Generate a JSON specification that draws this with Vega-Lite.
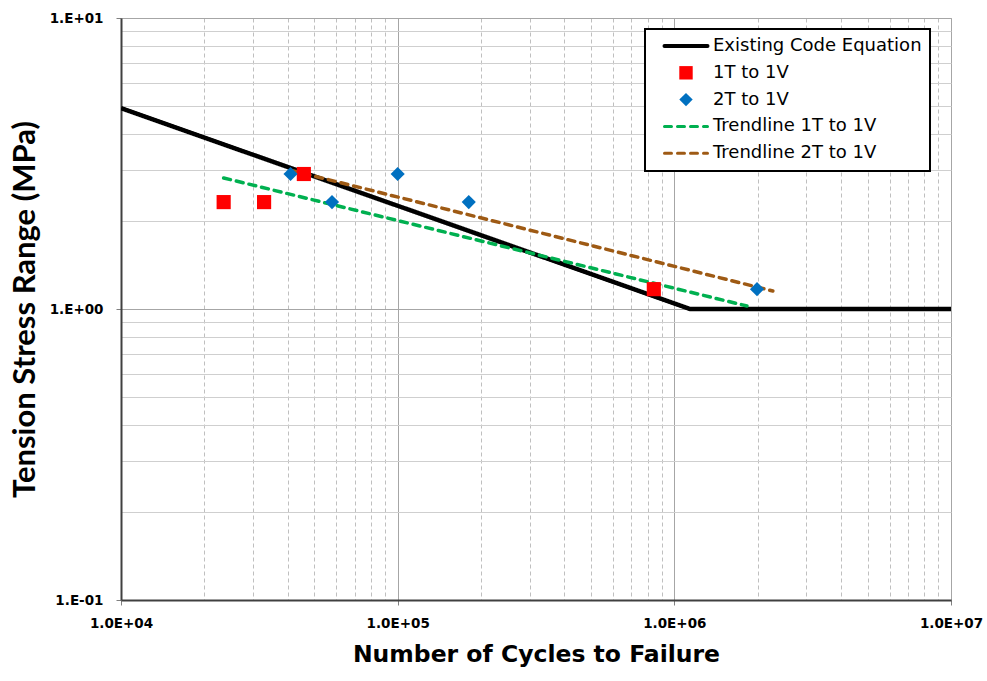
{
  "$schema": "https://vega.github.io/schema/vega-lite/v6.json",
  "width": 830,
  "height": 582,
  "autosize": {"type": "none"},
  "padding": {"left": 121, "top": 18, "right": 36, "bottom": 81},
  "background": "white",
  "config": {
    "view": {"stroke": "#a6a6a6", "strokeWidth": 1},
    "font": "DejaVu Sans",
    "axis": {"labelFontSize": 13.5, "labelFont": "DejaVu Sans", "labelFontWeight": "bold"},
    "legend": {"strokeWidth": 2}
  },
  "data": {
    "values": [
      {"series": "Existing Code Equation", "N": 10000, "S": 4.9, "o": 1},
      {"series": "Existing Code Equation", "N": 1140000, "S": 1.0, "o": 2},
      {"series": "Existing Code Equation", "N": 10000000, "S": 1.0, "o": 3},
      {"series": "1T to 1V", "N": 23500, "S": 2.33, "o": 1},
      {"series": "1T to 1V", "N": 32900, "S": 2.33, "o": 2},
      {"series": "1T to 1V", "N": 45800, "S": 2.91, "o": 3},
      {"series": "1T to 1V", "N": 843000, "S": 1.17, "o": 4},
      {"series": "2T to 1V", "N": 41000, "S": 2.91, "o": 1},
      {"series": "2T to 1V", "N": 57900, "S": 2.33, "o": 2},
      {"series": "2T to 1V", "N": 100000, "S": 2.91, "o": 3},
      {"series": "2T to 1V", "N": 180700, "S": 2.33, "o": 4},
      {"series": "2T to 1V", "N": 1990000, "S": 1.17, "o": 5},
      {"series": "Trendline 1T to 1V", "N": 23500, "S": 2.82, "o": 1},
      {"series": "Trendline 1T to 1V", "N": 1830000, "S": 1.024, "o": 2},
      {"series": "Trendline 2T to 1V", "N": 41000, "S": 3.0, "o": 1},
      {"series": "Trendline 2T to 1V", "N": 2270000, "S": 1.153, "o": 2}
    ]
  },
  "encoding": {
    "x": {
      "field": "N", "type": "quantitative",
      "scale": {"type": "log", "domain": [10000, 10000000], "nice": false},
      "axis": {
        "title": "Number of Cycles to Failure",
        "titleFont": "DejaVu Sans", "titleFontSize": 23.5, "titleFontWeight": "bold", "titleColor": "black",
        "titlePadding": 13,
        "values": [10000,20000,30000,40000,50000,60000,70000,80000,90000,100000,200000,300000,400000,500000,600000,700000,800000,900000,1000000,2000000,3000000,4000000,5000000,6000000,7000000,8000000,9000000,10000000],
        "labelExpr": "abs(log(datum.value)/LN10 - round(log(datum.value)/LN10)) < 0.001 ? '1.0E+0' + round(log(datum.value)/LN10) : ''",
        "labelFont": "DejaVu Sans", "labelFontSize": 13.5, "labelFontWeight": "bold", "labelColor": "black",
        "labelPadding": 11, "labelFlush": false, "labelOverlap": false,
        "domainColor": "#404040", "domainWidth": 2,
        "tickColor": "#808080", "tickSize": 5,
        "tickOpacity": {"condition": {"test": "abs(log(datum.value)/LN10 - round(log(datum.value)/LN10)) < 0.001", "value": 1}, "value": 0},
        "grid": true,
        "gridColor": {"condition": {"test": "abs(log(datum.value)/LN10 - round(log(datum.value)/LN10)) < 0.001", "value": "#a6a6a6"}, "value": "#bfbfbf"},
        "gridDash": {"condition": {"test": "abs(log(datum.value)/LN10 - round(log(datum.value)/LN10)) < 0.001", "value": []}, "value": [4, 3]},
        "gridWidth": 1
      }
    },
    "y": {
      "field": "S", "type": "quantitative",
      "scale": {"type": "log", "domain": [0.1, 10], "nice": false},
      "axis": {
        "title": "Tension Stress Range (MPa)",
        "titleFont": "Lato", "titleFontSize": 31, "titleFontWeight": "bold", "titleColor": "black",
        "titlePadding": 8,
        "values": [0.1,0.2,0.3,0.4,0.5,0.6,0.7,0.8,0.9,1,2,3,4,5,6,7,8,9,10],
        "labelExpr": "abs(log(datum.value)/LN10 - round(log(datum.value)/LN10)) < 0.001 ? (round(log(datum.value)/LN10) < 0 ? '1.E-0' + abs(round(log(datum.value)/LN10)) : '1.E+0' + round(log(datum.value)/LN10)) : ''",
        "labelFont": "DejaVu Sans", "labelFontSize": 13.5, "labelFontWeight": "bold", "labelColor": "black",
        "labelPadding": 13, "labelOverlap": false,
        "domainColor": "#404040", "domainWidth": 2,
        "tickColor": "#808080", "tickSize": 5,
        "tickOpacity": {"condition": {"test": "abs(log(datum.value)/LN10 - round(log(datum.value)/LN10)) < 0.001", "value": 1}, "value": 0},
        "grid": true,
        "gridColor": {"condition": {"test": "abs(log(datum.value)/LN10 - round(log(datum.value)/LN10)) < 0.001", "value": "#a6a6a6"}, "value": "#cfcfcf"},
        "gridWidth": 1
      }
    },
    "color": {
      "field": "series", "type": "nominal",
      "scale": {
        "domain": ["Existing Code Equation", "1T to 1V", "2T to 1V", "Trendline 1T to 1V", "Trendline 2T to 1V"],
        "range": ["#000000", "#ff0000", "#0070c0", "#00b050", "#9e5a14"]
      },
      "legend": {
        "title": null,
        "orient": "none", "legendX": 524, "legendY": 11,
        "fillColor": "white", "strokeColor": "black",
        "padding": 8,
        "labelFont": "DejaVu Sans", "labelFontSize": 18, "labelColor": "black", "labelLimit": 400,
        "labelOffset": 18,
        "symbolOffset": 24,
        "rowPadding": 8.8,
        "symbolSize": 1850,
        "symbolStrokeWidth": 3,
        "encode": {
          "symbols": {
            "update": {
              "size": {"signal": "datum.value == '1T to 1V' || datum.value == '2T to 1V' ? 180 : 1850"},
              "strokeWidth": {"signal": "datum.value == '1T to 1V' || datum.value == '2T to 1V' ? 0 : (datum.value == 'Existing Code Equation' ? 4 : 3)"},
              "fill": {"signal": "datum.value == '1T to 1V' ? '#ff0000' : (datum.value == '2T to 1V' ? '#0070c0' : 'transparent')"},
              "strokeCap": {"value": "round"},
              "fillOpacity": {"value": 1},
              "opacity": {"value": 1}
            }
          }
        }
      }
    },
    "strokeDash": {
      "field": "series", "type": "nominal",
      "scale": {
        "domain": ["Existing Code Equation", "1T to 1V", "2T to 1V", "Trendline 1T to 1V", "Trendline 2T to 1V"],
        "range": [[1, 0], [1, 0], [1, 0], [7, 6], [7, 6]]
      }
    },
    "shape": {
      "field": "series", "type": "nominal",
      "scale": {
        "domain": ["Existing Code Equation", "1T to 1V", "2T to 1V", "Trendline 1T to 1V", "Trendline 2T to 1V"],
        "range": ["stroke", "square", "diamond", "stroke", "stroke"]
      }
    }
  },
  "layer": [
    {
      "transform": [{"filter": "datum.series == 'Existing Code Equation'"}],
      "mark": {"type": "line", "strokeWidth": 4.5, "clip": true},
      "encoding": {"order": {"field": "o", "type": "quantitative"}, "shape": null}
    },
    {
      "transform": [{"filter": "datum.series == 'Trendline 1T to 1V' || datum.series == 'Trendline 2T to 1V'"}],
      "mark": {"type": "line", "strokeWidth": 3.5, "strokeCap": "round"},
      "encoding": {"order": {"field": "o", "type": "quantitative"}, "shape": null}
    },
    {
      "transform": [{"filter": "datum.series == '1T to 1V' || datum.series == '2T to 1V'"}],
      "mark": {"type": "point", "filled": true, "opacity": 1, "size": 200},
      "encoding": {"strokeDash": null}
    }
  ]
}
